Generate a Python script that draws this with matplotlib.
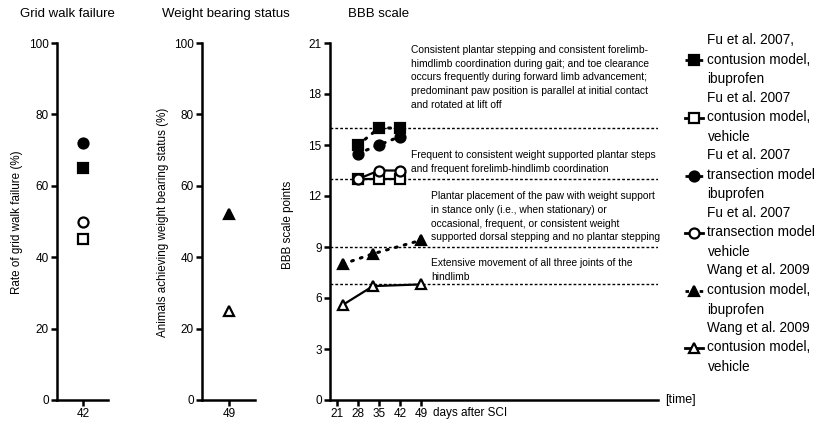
import matplotlib
matplotlib.use("Agg")
import matplotlib.pyplot as plt
from matplotlib.lines import Line2D

plt.rcParams['font.family'] = ['Liberation Sans', 'DejaVu Sans']

# ---------------- data ----------------
grid_day = [42]
grid_fu_cont_ibu = [65]
grid_fu_cont_veh = [45]
grid_fu_trans_ibu = [72]
grid_fu_trans_veh = [50]

wb_day = [49]
wb_wang_ibu = [52]
wb_wang_veh = [25]

fu_days = [28, 35, 42]
bbb_fu_cont_ibu = [15, 16, 16]
bbb_fu_cont_veh = [13, 13, 13]
bbb_fu_trans_ibu = [14.5, 15, 15.5]
bbb_fu_trans_veh = [13, 13.5, 13.5]
wang_days = [23, 33, 49]
bbb_wang_ibu = [8.0, 8.6, 9.4]
bbb_wang_veh = [5.6, 6.7, 6.8]

bbb_thresholds = [16, 13, 9, 6.8]
pct_ticks = [0, 20, 40, 60, 80, 100]
bbb_ticks = [0, 3, 6, 9, 12, 15, 18, 21]
time_ticks = [21, 28, 35, 42, 49]

labels = [
    "Fu et al. 2007,\ncontusion model,\nibuprofen",
    "Fu et al. 2007\ncontusion model,\nvehicle",
    "Fu et al. 2007\ntransection model\nibuprofen",
    "Fu et al. 2007\ntransection model\nvehicle",
    "Wang et al. 2009\ncontusion model,\nibuprofen",
    "Wang et al. 2009\ncontusion model,\nvehicle",
]

notes = [
    (45.7, 20.9, "Consistent plantar stepping and consistent forelimb-\nhimdlimb coordination during gait; and toe clearance\noccurs frequently during forward limb advancement;\npredominant paw position is parallel at initial contact\nand rotated at lift off"),
    (45.7, 14.7, "Frequent to consistent weight supported plantar steps\nand frequent forelimb-hindlimb coordination"),
    (52.3, 12.3, "Plantar placement of the paw with weight support\nin stance only (i.e., when stationary) or\noccasional, frequent, or consistent weight\nsupported dorsal stepping and no plantar stepping"),
    (52.3, 8.35, "Extensive movement of all three joints of the\nhindlimb"),
]

# ---------------- styles ----------------
MS = 7.2
MEW = 1.6
DOT = (0, (0.6, 2.4))
styles = [
    dict(marker='s', mfc='black', mec='black', ls=DOT),
    dict(marker='s', mfc='white', mec='black', ls='-'),
    dict(marker='o', mfc='black', mec='black', ls=DOT),
    dict(marker='o', mfc='white', mec='black', ls='-'),
    dict(marker='^', mfc='black', mec='black', ls=DOT),
    dict(marker='^', mfc='white', mec='black', ls='-'),
]

W, H = 817, 424
fig = plt.figure(figsize=(W / 100, H / 100), dpi=100)


def px_ax(x0, x1, y0, y1):
    return fig.add_axes([x0 / W, 1 - y1 / H, (x1 - x0) / W, (y1 - y0) / H])


SPW = 1.8


def style_ax(ax):
    for s in ['top', 'right']:
        ax.spines[s].set_visible(False)
    for s in ['left', 'bottom']:
        ax.spines[s].set_linewidth(SPW)
    ax.tick_params(direction='out', length=4, width=SPW, labelsize=8.5, pad=2)
    ax.patch.set_alpha(0)


# Panel 1: grid walk
ax1 = px_ax(57, 108, 43, 400)
for vals, st in zip([grid_fu_cont_ibu, grid_fu_cont_veh, grid_fu_trans_ibu, grid_fu_trans_veh], styles[:4]):
    ax1.plot(grid_day, vals, ls='none', marker=st['marker'], mfc=st['mfc'], mec=st['mec'],
             ms=MS, mew=MEW, clip_on=False)
ax1.set_xlim(40.97, 43.0)
ax1.set_ylim(0, 100)
ax1.set_xticks(grid_day)
ax1.set_yticks(pct_ticks)
style_ax(ax1)

# Panel 2: weight bearing
ax2 = px_ax(202, 255, 43, 400)
for vals, st in zip([wb_wang_ibu, wb_wang_veh], styles[4:]):
    ax2.plot(wb_day, vals, ls='none', marker=st['marker'], mfc=st['mfc'], mec=st['mec'],
             ms=MS, mew=MEW, clip_on=False)
ax2.set_xlim(47.98, 50.0)
ax2.set_ylim(0, 100)
ax2.set_xticks(wb_day)
ax2.set_yticks(pct_ticks)
style_ax(ax2)

# Panel 3: BBB
ax3 = px_ax(330, 658, 43, 400)
for th in bbb_thresholds:
    ax3.axhline(th, color='black', lw=1.0, ls=(0, (2, 1.5)), zorder=1)
series = [
    (fu_days, bbb_fu_cont_ibu), (fu_days, bbb_fu_cont_veh),
    (fu_days, bbb_fu_trans_ibu), (fu_days, bbb_fu_trans_veh),
    (wang_days, bbb_wang_ibu), (wang_days, bbb_wang_veh),
]
handles = []
for (xs, ys), st in zip(series, styles):
    lw = 2.2 if st['ls'] != '-' else 1.6
    ax3.plot(xs, ys, color='black', ls=st['ls'], lw=lw, marker=st['marker'],
             mfc=st['mfc'], mec=st['mec'], ms=MS, mew=MEW, dash_capstyle='round',
             clip_on=False, zorder=3)
    hls = (0, (1.26, 3.85)) if st['ls'] != '-' else '-'
    handles.append(Line2D([], [], color='black', ls=hls, lw=2.0, marker=st['marker'],
                          mfc=st['mfc'], mec=st['mec'], ms=MS, mew=MEW))
ax3.set_xlim(18.7, 127.8)
ax3.set_ylim(0, 21)
ax3.set_xticks(time_ticks)
ax3.set_yticks(bbb_ticks)
style_ax(ax3)
for x, y, t in notes:
    ax3.text(x, y, t, fontsize=7.4, va='top', ha='left', linespacing=1.48)

# texts
fig.text(67 / W, 1 - 14 / H, "Grid walk failure", ha='center', va='center', fontsize=9.5)
fig.text(226 / W, 1 - 14 / H, "Weight bearing status", ha='center', va='center', fontsize=9.5)
fig.text(348 / W, 1 - 14 / H, "BBB scale", ha='left', va='center', fontsize=9.5)
fig.text(17 / W, 1 - 222 / H, "Rate of grid walk failure (%)", rotation=90, ha='center', va='center', fontsize=8.4)
fig.text(163 / W, 1 - 222 / H, "Animals achieving weight bearing status (%)", rotation=90, ha='center', va='center', fontsize=8.4)
fig.text(288 / W, 1 - 225 / H, "BBB scale points", rotation=90, ha='center', va='center', fontsize=8.4)
fig.text(433 / W, 1 - 413 / H, "days after SCI", ha='left', va='center', fontsize=8.5)
fig.text(665 / W, 1 - 400 / H, "[time]", ha='left', va='center', fontsize=9)

leg = fig.legend(handles, labels, loc='upper left', bbox_to_anchor=(685 / W, 1 - 33 / H),
                 frameon=False, fontsize=9.8, handlelength=1.3, handletextpad=0.35,
                 labelspacing=0.3, borderpad=0, borderaxespad=0)
for t in leg.get_texts():
    t.set_linespacing(1.52)

fig.savefig("out.png", dpi=100)
